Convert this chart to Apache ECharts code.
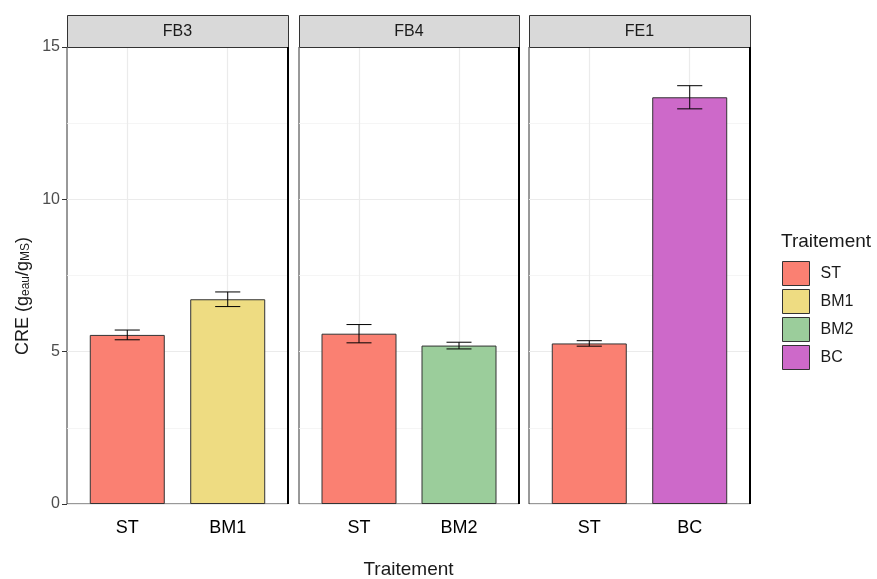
<!DOCTYPE html>
<html>
<head>
<meta charset="utf-8">
<script src="https://cdn.jsdelivr.net/npm/echarts@6/dist/echarts.min.js"></script>
<style>
html,body{margin:0;padding:0;background:#fff;}
#chart{width:877px;height:579px;}
</style>
</head>
<body>
<div id="chart"></div>
<script>
// ---- data ----
const panels = ['FB3', 'FB4', 'FE1'];
const categories = [['ST', 'BM1'], ['ST', 'BM2'], ['ST', 'BC']];
const means = [[5.55, 6.72], [5.59, 5.20], [5.27, 13.35]];
const errors = [[0.16, 0.24], [0.30, 0.11], [0.09, 0.38]];
const treatments = ['ST', 'BM1', 'BM2', 'BC'];
const yTicks = [0, 5, 10, 15];
const xTitle = 'Traitement';
const legendTitle = 'Traitement';

// ---- style ----
const palette = { ST: '#FA8072', BM1: '#EEDC82', BM2: '#9BCD9B', BC: '#CD69C9' };
const FONT = '"Liberation Sans", Arial, Helvetica, sans-serif';
const panelLeft = [67, 299, 529];
const panelWidth = [221, 220, 221];
const plotTop = 47, plotHeight = 457;
const stripTop = 15;

const chart = echarts.init(document.getElementById('chart'), null, { renderer: 'canvas' });

const grids = [], xAxes = [], yAxes = [], series = [], graphics = [];

panels.forEach((p, pi) => {
  grids.push({ left: panelLeft[pi], top: plotTop, width: panelWidth[pi], height: plotHeight,
    show: true, borderColor: '#333', borderWidth: 1, backgroundColor: '#fff', containLabel: false });
  xAxes.push({
    type: 'value', gridIndex: pi, min: 0.4, max: 2.6,
    axisLine: { show: false }, axisTick: { show: false }, splitLine: { show: false },
    axisLabel: {
      show: true, customValues: [1, 2], margin: 15,
      fontFamily: FONT, fontSize: 18, color: '#000',
      formatter: v => categories[pi][Math.round(v) - 1] || ''
    }
  });
  yAxes.push({
    type: 'value', gridIndex: pi, min: yTicks[0], max: yTicks[yTicks.length - 1], interval: 5,
    axisLine: { show: false },
    axisTick: { show: pi === 0, length: 5, lineStyle: { color: '#333', width: 1 } },
    axisLabel: { show: pi === 0, margin: 7, fontFamily: FONT, fontSize: 16, color: '#4d4d4d' },
    splitLine: { show: true, lineStyle: { color: '#ebebeb', width: 1.2 } },
    minorTick: { show: false, splitNumber: 2 },
    minorSplitLine: { show: true, lineStyle: { color: '#f2f2f2', width: 0.8 } }
  });

  categories[pi].forEach((c, ci) => {
    const s = {
      name: c, type: 'bar', xAxisIndex: pi, yAxisIndex: pi,
      data: [[ci + 1, means[pi][ci]]],
      barWidth: 75, barGap: '-100%', z: 2,
      itemStyle: { color: palette[c], borderColor: '#333', borderWidth: 1 },
      emphasis: { disabled: true }, silent: true
    };
    if (ci === 0) {
      s.markLine = {
        silent: true, symbol: 'none', z: 1, animation: false,
        label: { show: false },
        lineStyle: { color: '#ebebeb', type: 'solid', width: 1.2 },
        data: categories[pi].map((_, k) => ({ xAxis: k + 1 }))
      };
    }
    series.push(s);
  });

  series.push({
    type: 'custom', xAxisIndex: pi, yAxisIndex: pi, z: 5, silent: true,
    data: means[pi].map((m, k) => [k + 1, m - errors[pi][k], m + errors[pi][k]]),
    renderItem: (params, api) => {
      const x = api.value(0);
      const lo = api.coord([x, api.value(1)]);
      const hi = api.coord([x, api.value(2)]);
      const half = api.size([0.125, 0])[0];
      const st = { stroke: '#000', lineWidth: 1 };
      return {
        type: 'group', children: [
          { type: 'line', shape: { x1: lo[0], y1: lo[1], x2: hi[0], y2: hi[1] }, style: st },
          { type: 'line', shape: { x1: hi[0] - half, y1: hi[1], x2: hi[0] + half, y2: hi[1] }, style: st },
          { type: 'line', shape: { x1: lo[0] - half, y1: lo[1], x2: lo[0] + half, y2: lo[1] }, style: st }
        ]
      };
    }
  });

  // strip header
  graphics.push({
    type: 'rect', left: panelLeft[pi], top: stripTop, z: 10,
    shape: { width: panelWidth[pi], height: plotTop - stripTop },
    style: { fill: '#d9d9d9', stroke: '#333', lineWidth: 1 }
  });
  graphics.push({
    type: 'text', z: 11,
    x: panelLeft[pi] + panelWidth[pi] / 2, y: (stripTop + plotTop) / 2 + 0.5,
    style: { text: p, fontFamily: FONT, fontSize: 16, fill: '#1a1a1a', align: 'center', verticalAlign: 'middle' }
  });
  // darker right frame edge
  graphics.push({
    type: 'line', z: 10,
    shape: { x1: panelLeft[pi] + panelWidth[pi], y1: plotTop, x2: panelLeft[pi] + panelWidth[pi], y2: plotTop + plotHeight },
    style: { stroke: '#000', lineWidth: 2 }
  });
});

// axis titles
graphics.push({
  type: 'text', z: 11, x: 408.5, y: 569.5,
  style: { text: xTitle, fontFamily: FONT, fontSize: 19, fill: '#1a1a1a', align: 'center', verticalAlign: 'middle' }
});
graphics.push({
  type: 'text', z: 11, x: 21, y: 296, rotation: Math.PI / 2,
  style: {
    text: '{n|CRE (g}{s|eau}{n|/g}{s|MS}{n|)}',
    align: 'center', verticalAlign: 'middle',
    rich: {
      n: { fontFamily: FONT, fontSize: 18, fill: '#1a1a1a', color: '#1a1a1a', verticalAlign: 'bottom', lineHeight: 22 },
      s: { fontFamily: FONT, fontSize: 12, fill: '#1a1a1a', color: '#1a1a1a', verticalAlign: 'bottom', lineHeight: 10 }
    }
  }
});
graphics.push({
  type: 'text', z: 11, x: 781, y: 242,
  style: { text: legendTitle, fontFamily: FONT, fontSize: 19, fill: '#1a1a1a', align: 'left', verticalAlign: 'middle' }
});

chart.setOption({
  animation: false,
  backgroundColor: '#fff',
  grid: grids,
  xAxis: xAxes,
  yAxis: yAxes,
  series: series,
  graphic: graphics,
  legend: {
    data: treatments, orient: 'vertical', left: 782, top: 261, padding: 0,
    itemWidth: 27, itemHeight: 24, itemGap: 3, icon: 'rect', selectedMode: false,
    itemStyle: { borderColor: '#333', borderWidth: 1 },
    textStyle: { fontFamily: FONT, fontSize: 16, color: '#1a1a1a', padding: [0, 0, 0, 6] }
  }
});
</script>
</body>
</html>
